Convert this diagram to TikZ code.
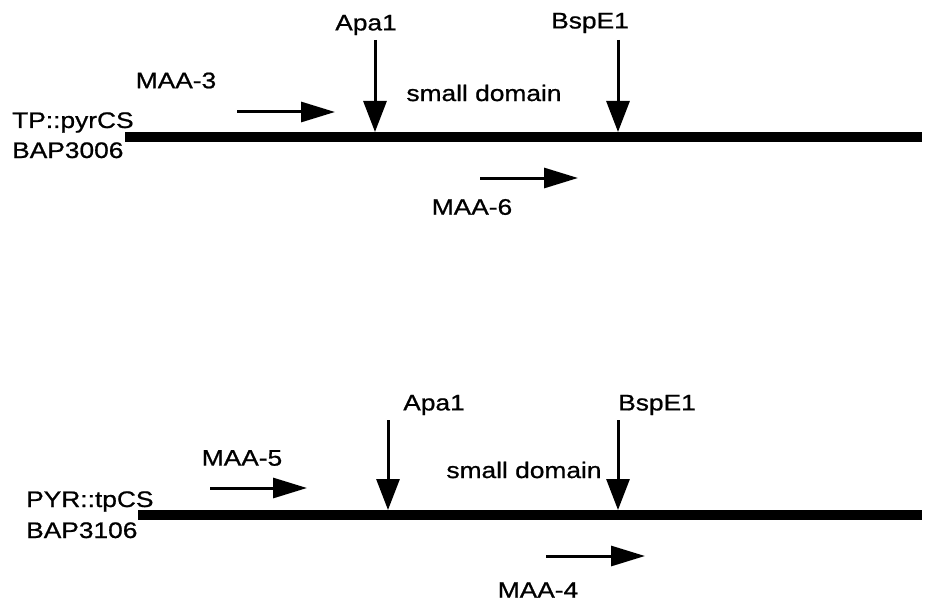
\documentclass[tikz,border=0pt]{standalone}
\usepackage{fontspec}
\setmainfont[FakeStretch=1.17,FakeBold=0.8]{Liberation Sans}
\usetikzlibrary{arrows.meta}
\begin{document}
\begin{tikzpicture}[x=1pt,y=-1pt,
  lbl/.style={inner sep=0pt,font=\fontsize{22.5}{26}\selectfont},
  lbll/.style={lbl,anchor=base west,align=left},
  dna/.style={line width=10pt},
  site/.style={line width=3pt,-{Triangle[length=31pt,width=23pt]}},
  primer/.style={line width=3pt,-{Triangle[length=34pt,width=20pt]}}]
\useasboundingbox (0,0) rectangle (925,604);
% top construct
\coordinate (L1a) at (125,137);
\coordinate (L1b) at (922,137);
\draw[dna] (L1a) -- (L1b);
\node[lbll] (n1) at (12,128) {TP::pyrCS};
\node[lbll] (n2) at (12,158) {BAP3006};
\node[lbl] (apa1) at (366,25) {Apa1};
\node[lbl] (bsp1) at (590,23) {BspE1};
\coordinate (a1s) at (375,40); \coordinate (a1t) at (375,132);
\coordinate (b1s) at (618,40); \coordinate (b1t) at (618,132);
\draw[site] (a1s) -- (a1t);
\draw[site] (b1s) -- (b1t);
\node[lbl] (sd1) at (484,93) {small domain};
\node[lbl] (m3) at (176,80.5) {MAA-3};
\coordinate (m3s) at (237,112); \coordinate (m3t) at (335,112);
\draw[primer] (m3s) -- (m3t);
\coordinate (m6s) at (480,178); \coordinate (m6t) at (578,178);
\draw[primer] (m6s) -- (m6t);
\node[lbl] (m6) at (472,207) {MAA-6};
% bottom construct
\coordinate (L2a) at (138,515);
\coordinate (L2b) at (922,515);
\draw[dna] (L2a) -- (L2b);
\node[lbll] (n3) at (26,507) {PYR::tpCS};
\node[lbll] (n4) at (26,538) {BAP3106};
\node[lbl] (apa2) at (434,405) {Apa1};
\node[lbl] (bsp2) at (657,405) {BspE1};
\coordinate (a2s) at (388,420); \coordinate (a2t) at (388,510);
\coordinate (b2s) at (618,420); \coordinate (b2t) at (618,510);
\draw[site] (a2s) -- (a2t);
\draw[site] (b2s) -- (b2t);
\node[lbl] (sd2) at (524,470) {small domain};
\node[lbl] (m5) at (242,458) {MAA-5};
\coordinate (m5s) at (210,488); \coordinate (m5t) at (307,488);
\draw[primer] (m5s) -- (m5t);
\coordinate (m4s) at (546,556); \coordinate (m4t) at (645,556);
\draw[primer] (m4s) -- (m4t);
\node[lbl] (m4) at (538,590) {MAA-4};
\end{tikzpicture}
\end{document}
